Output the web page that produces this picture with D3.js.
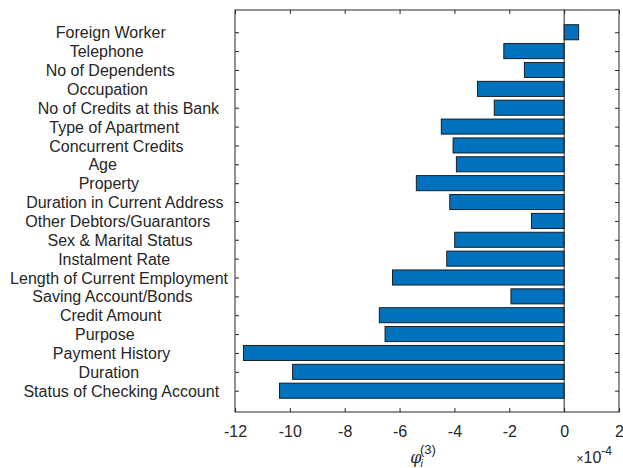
<!DOCTYPE html>
<html>
<head>
<meta charset="utf-8">
<script src="https://cdn.jsdelivr.net/npm/d3@7"></script>
<style>
  body { margin: 0; background: #fff; }
  text { font-family: "Liberation Sans", Arial, Helvetica, sans-serif; fill: #262626; }
</style>
</head>
<body>
<svg id="chart" width="623" height="468"></svg>
<script>
// Feature names, listed top to bottom
const features = [
  "Foreign Worker",
  "Telephone",
  "No of Dependents",
  "Occupation",
  "No of Credits at this Bank",
  "Type of Apartment",
  "Concurrent Credits",
  "Age",
  "Property",
  "Duration in Current Address",
  "Other Debtors/Guarantors",
  "Sex & Marital Status",
  "Instalment Rate",
  "Length of Current Employment",
  "Saving Account/Bonds",
  "Credit Amount",
  "Purpose",
  "Payment History",
  "Duration",
  "Status of Checking Account"
];

// phi_i^(3) for each feature, in units of 1e-4
const phi3 = [
  0.53, -2.20, -1.45, -3.16, -2.55, -4.48, -4.05, -3.93, -5.39, -4.17,
  -1.19, -3.99, -4.28, -6.26, -1.94, -6.74, -6.53, -11.69, -9.90, -10.38
];

const xTicks = [-12, -10, -8, -6, -4, -2, 0, 2];
const xDomain = [-12, 2];
const xExponent = -4;

const svg = d3.select("#chart");
const box = { left: 235, right: 619, top: 10, bottom: 412 };
const ink = "#262626";
const fontSize = 16;

const x = d3.scaleLinear().domain(xDomain).range([box.left, box.right]);
// bar k (1 = bottom) sits at position k
const n = features.length;
const y = d3.scaleLinear().domain([-0.13, n + 1.18]).range([box.bottom, box.top]);
const barH = Math.abs(y(0.8) - y(0));

const data = features.map((name, i) => ({ name, value: phi3[i], pos: n - i }));

// plot background
svg.append("rect")
  .attr("x", box.left).attr("y", box.top)
  .attr("width", box.right - box.left).attr("height", box.bottom - box.top)
  .attr("fill", "#fff");

// bars
svg.append("g").selectAll("rect").data(data).join("rect")
  .attr("x", d => Math.min(x(0), x(d.value)))
  .attr("y", d => y(d.pos) - barH / 2)
  .attr("width", d => Math.abs(x(d.value) - x(0)))
  .attr("height", barH)
  .attr("fill", "#0072BD")
  .attr("stroke", "#111")
  .attr("stroke-width", 0.9);

// baseline at zero
svg.append("line")
  .attr("x1", x(0)).attr("x2", x(0))
  .attr("y1", box.top).attr("y2", box.bottom)
  .attr("stroke", ink).attr("stroke-width", 1);

// axes with inward ticks on all four sides
const tickLen = 4;
function styleAxis(g) {
  g.select(".domain").remove();
  g.selectAll(".tick line").attr("stroke", ink);
}

svg.append("g")
  .attr("transform", `translate(0,${box.bottom})`)
  .call(d3.axisBottom(x).tickValues(xTicks).tickSizeInner(-tickLen).tickSizeOuter(0).tickPadding(0).tickFormat(d3.format("d")))
  .call(styleAxis)
  .call(g => g.selectAll(".tick text")
    .attr("y", 25).attr("dy", 0)
    .style("font-size", fontSize + "px")
    .attr("fill", ink)
    .text(d => d < 0 ? "-" + Math.abs(d) : String(d)));

svg.append("g")
  .attr("transform", `translate(0,${box.top})`)
  .call(d3.axisTop(x).tickValues(xTicks).tickSizeInner(-tickLen).tickSizeOuter(0).tickFormat(""))
  .call(styleAxis);

const yTicks = data.map(d => d.pos);
const maxLen = d3.max(features, s => s.length);
const labelOf = new Map(data.map(d => [d.pos, d.name]));

svg.append("g")
  .attr("transform", `translate(${box.left},0)`)
  .call(d3.axisLeft(y).tickValues(yTicks).tickSizeInner(-tickLen).tickSizeOuter(0).tickFormat(p => labelOf.get(p).padEnd(maxLen, " ")))
  .call(styleAxis)
  .call(g => g.selectAll(".tick text")
    .attr("x", -7)
    .attr("dy", "0.35em")
    .style("font-size", fontSize + "px")
    .style("white-space", "pre")
    .attr("fill", ink));

svg.append("g")
  .attr("transform", `translate(${box.right},0)`)
  .call(d3.axisRight(y).tickValues(yTicks).tickSizeInner(-tickLen).tickSizeOuter(0).tickFormat(""))
  .call(styleAxis);

// axes box
svg.append("rect")
  .attr("x", box.left).attr("y", box.top)
  .attr("width", box.right - box.left).attr("height", box.bottom - box.top)
  .attr("fill", "none").attr("stroke", ink).attr("stroke-width", 1);

// x-axis label: phi_i^(3)
const xl = svg.append("text")
  .attr("x", (box.left + box.right) / 2 - 4)
  .attr("y", 463)
  .attr("text-anchor", "middle")
  .style("font-size", fontSize + "px");
xl.append("tspan").text("\u03C6").style("font-style", "italic").style("font-family", "'DejaVu Serif', serif");
xl.append("tspan").text("i").attr("dy", 4).attr("dx", -1).style("font-size", "11px").style("font-style", "italic");
xl.append("tspan").text("(3)").attr("dy", -13).attr("dx", -3).style("font-size", "13px");

// exponent note
const ex = svg.append("text")
  .attr("x", 612).attr("y", 463)
  .attr("text-anchor", "end")
  .style("font-size", fontSize + "px");
ex.append("tspan").text("\u00D7").style("font-size", "12px");
ex.append("tspan").text("10");
ex.append("tspan").text(String(xExponent)).attr("dy", -8).style("font-size", "12px");
</script>
</body>
</html>
